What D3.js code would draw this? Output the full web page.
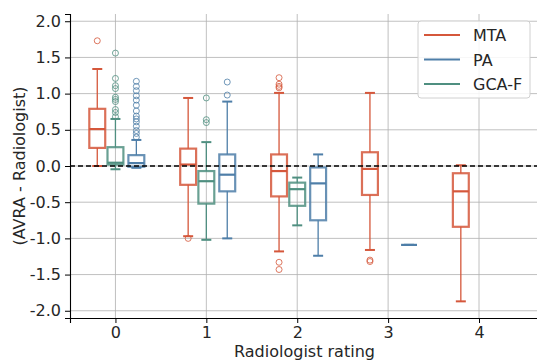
<!DOCTYPE html>
<html>
<head>
<meta charset="utf-8">
<script src="https://cdn.jsdelivr.net/npm/d3@7"></script>
<style>
  body { margin: 0; background: #fff; }
  text { font-family: "DejaVu Sans", sans-serif; }
</style>
</head>
<body>
<div id="chart"></div>
<script>
// box stats per rating: [whisker low, q1, median, q3, whisker high]
const ratings = [0, 1, 2, 3, 4];
const seriesNames = ['MTA', 'PA', 'GCA-F'];
const mtaStats = [[0.0, 0.25, 0.51, 0.79, 1.34], [-0.97, -0.26, 0.02, 0.24, 0.94], [-1.18, -0.42, -0.07, 0.16, 1.01], [-1.16, -0.40, -0.04, 0.19, 1.01], [-1.87, -0.84, -0.35, -0.10, 0.01]];
const mtaOutliers = [[1.73], [-1.0], [1.22, 1.13, 1.10, 1.08, -1.33, -1.43], [-1.30, -1.32], []];
const paStats = [[-0.025, -0.01, 0.04, 0.15, 0.36], [-1.0, -0.35, -0.12, 0.16, 0.89], [-1.24, -0.75, -0.24, -0.02, 0.16], [-1.09, -1.09, -1.09, -1.09, -1.09], null];
const paOutliers = [[1.17, 1.10, 1.04, 0.97, 0.91, 0.84, 0.76, 0.69, 0.65, 0.61, 0.55, 0.49, 0.45, 0.40], [1.16, 0.98], [], [], []];
const gcaStats = [[-0.045, 0.02, 0.045, 0.26, 0.65], [-1.02, -0.52, -0.21, -0.07, 0.33], [-0.82, -0.55, -0.32, -0.23, -0.16], null, null];
const gcaOutliers = [[1.56, 1.21, 1.11, 1.07, 0.95, 0.92, 0.89, 0.78, 0.74, 0.68], [0.94, 0.64, 0.60], [], [], []];
const yTicks = [-2.0, -1.5, -1.0, -0.5, 0.0, 0.5, 1.0, 1.5, 2.0];

const colors = { 'MTA': '#d5573b', 'PA': '#4e7ea8', 'GCA-F': '#4f8f80' };
const offsets = { 'MTA': -0.2, 'PA': 0.23, 'GCA-F': 0 };
const stats = { 'MTA': mtaStats, 'PA': paStats, 'GCA-F': gcaStats };
const outliers = { 'MTA': mtaOutliers, 'PA': paOutliers, 'GCA-F': gcaOutliers };

const W = 537, H = 361;
const margin = { left: 70, right: -2, top: 14, bottom: 43 };

const svg = d3.select('#chart').append('svg').attr('width', W).attr('height', H);

const x = d3.scaleLinear().domain([-0.5, 4.66]).range([margin.left, W - margin.right]);
const y = d3.scaleLinear().domain([-2.1, 2.1]).range([H - margin.bottom, margin.top]);

const boxW = 0.175, capW = 0.11;

// grid
const grid = svg.append('g').attr('stroke', '#b0b0b0').attr('stroke-width', 0.8);
grid.selectAll('.gx').data(ratings).enter().append('line')
  .attr('x1', d => x(d)).attr('x2', d => x(d))
  .attr('y1', y.range()[0]).attr('y2', y.range()[1]);
grid.selectAll('.gy').data(yTicks).enter().append('line')
  .attr('x1', x.range()[0]).attr('x2', x.range()[1])
  .attr('y1', d => y(d)).attr('y2', d => y(d));

// boxes
seriesNames.forEach(name => {
  const c = colors[name];
  const g = svg.append('g').attr('fill', 'none').attr('stroke', c);
  ratings.forEach((r, i) => {
    const s = stats[name][i];
    if (!s) return;
    const cx = r + offsets[name];
    const [lo, q1, med, q3, hi] = s;
    // whiskers
    g.append('line').attr('x1', x(cx)).attr('x2', x(cx)).attr('y1', y(q3)).attr('y2', y(hi)).attr('stroke-width', 1.3);
    g.append('line').attr('x1', x(cx)).attr('x2', x(cx)).attr('y1', y(q1)).attr('y2', y(lo)).attr('stroke-width', 1.3);
    // caps
    [lo, hi].forEach(v => {
      g.append('line').attr('x1', x(cx - capW / 2)).attr('x2', x(cx + capW / 2))
        .attr('y1', y(v)).attr('y2', y(v)).attr('stroke-width', 2);
    });
    // box
    g.append('rect').attr('x', x(cx - boxW / 2)).attr('width', x(cx + boxW / 2) - x(cx - boxW / 2))
      .attr('y', y(q3)).attr('height', y(q1) - y(q3))
      .attr('stroke-width', 2.2).attr('stroke-opacity', 0.85);
    // median
    g.append('line').attr('x1', x(cx - boxW / 2)).attr('x2', x(cx + boxW / 2))
      .attr('y1', y(med)).attr('y2', y(med)).attr('stroke-width', 2.2);
    // fliers
    g.selectAll(null).data(outliers[name][i]).enter().append('circle')
      .attr('cx', x(cx)).attr('cy', d => y(d)).attr('r', 3)
      .attr('stroke-width', 1).attr('stroke-opacity', 0.8);
  });
});

// zero line
svg.append('line')
  .attr('x1', x.range()[0]).attr('x2', x.range()[1])
  .attr('y1', y(0)).attr('y2', y(0))
  .attr('stroke', '#000').attr('stroke-width', 1.3).attr('stroke-dasharray', '5,3');

// axes
const xAxis = svg.append('g')
  .attr('transform', 'translate(0,' + y.range()[0] + ')')
  .call(d3.axisBottom(x).tickValues(ratings).tickFormat(d3.format('d')).tickSizeOuter(0).tickSize(5).tickPadding(4));
const yAxis = svg.append('g')
  .attr('transform', 'translate(' + x.range()[0] + ',0)')
  .call(d3.axisLeft(y).tickValues(yTicks).tickFormat(d => d.toFixed(1)).tickSizeOuter(0).tickSize(5).tickPadding(4));
[xAxis, yAxis].forEach(a => {
  a.selectAll('text').attr('font-size', 16).attr('fill', '#262626').attr('font-family', '"DejaVu Sans", sans-serif');
  a.select('.domain').attr('stroke', '#000').attr('stroke-width', 1.1);
  a.selectAll('.tick line').attr('stroke', '#000').attr('stroke-width', 1);
});

svg.append('text').attr('x', (x.range()[0] + x.range()[1]) / 2).attr('y', 357)
  .attr('text-anchor', 'middle').attr('font-size', 16).attr('fill', '#262626')
  .text('Radiologist rating');
svg.append('text').attr('transform', 'translate(25,' + y(0) + ') rotate(-90)')
  .attr('text-anchor', 'middle').attr('font-size', 16).attr('fill', '#262626')
  .text('(AVRA - Radiologist)');

// legend
const leg = svg.append('g').attr('transform', 'translate(418,21)');
leg.append('rect').attr('width', 112).attr('height', 77).attr('rx', 3)
  .attr('fill', '#fff').attr('fill-opacity', 0.85).attr('stroke', '#d0d0d0').attr('stroke-width', 1);
seriesNames.forEach((name, i) => {
  const ly = 14 + i * 24.5;
  leg.append('line').attr('x1', 6).attr('x2', 42).attr('y1', ly).attr('y2', ly)
    .attr('stroke', colors[name]).attr('stroke-width', 2);
  leg.append('text').attr('x', 55).attr('y', ly + 6).attr('font-size', 16).attr('fill', '#262626').text(name);
});
</script>
</body>
</html>
